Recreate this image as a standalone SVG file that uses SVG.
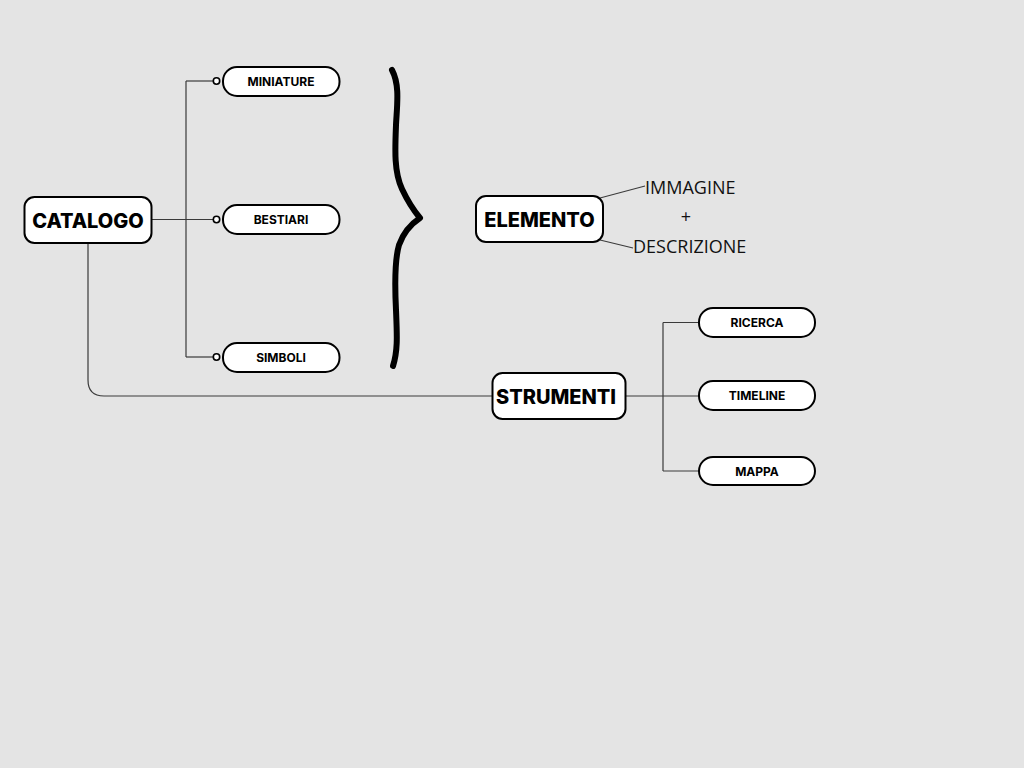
<svg xmlns="http://www.w3.org/2000/svg" width="1024" height="768" viewBox="0 0 1024 768">
  <style>
    .main rect { fill: #ffffff; stroke: #000000; stroke-width: 2; }
    .main text { font-family: Inter, "Liberation Sans", sans-serif; font-weight: 800; font-size: 20px; fill: #000000; text-anchor: middle; dominant-baseline: central; }
    .leaf rect { fill: #ffffff; stroke: #000000; stroke-width: 2; }
    .leaf text { font-family: Inter, "Liberation Sans", sans-serif; font-weight: 700; font-size: 12px; fill: #000000; text-anchor: middle; dominant-baseline: central; }
    .link { fill: none; stroke: #3a3a3a; stroke-width: 1.2; }
    .dot { fill: #ffffff; stroke: #000000; stroke-width: 1.6; }
    .note { font-family: "Open Sans", "Liberation Sans", sans-serif; font-size: 18px; fill: #111111; }
  </style>
  <rect width="1024" height="768" fill="#e4e4e4"/>

  <g id="connectors">
    <!-- CATALOGO branches -->
    <path class="link" d="M152 219.5 H213"/>
    <path class="link" d="M186 81 V357"/>
    <path class="link" d="M186 81 H213"/>
    <path class="link" d="M186 357 H213"/>
    <circle class="dot" cx="216.5" cy="81" r="3.2"/>
    <circle class="dot" cx="216.5" cy="219.5" r="3.2"/>
    <circle class="dot" cx="216.5" cy="357" r="3.2"/>
    <!-- CATALOGO to STRUMENTI -->
    <path class="link" d="M88 243 V380 Q88 396 104 396 H493"/>
    <!-- STRUMENTI branches -->
    <path class="link" d="M626 396 H699"/>
    <path class="link" d="M663 322.5 V471"/>
    <path class="link" d="M663 322.5 H699"/>
    <path class="link" d="M663 471 H699"/>
    <!-- ELEMENTO notes -->
    <path class="link" d="M600 198 L645 186"/>
    <path class="link" d="M600 240 L633 248"/>
  </g>

  <!-- curly brace -->
  <path id="brace" d="M392 70 C400 85 397 105 396 125 C395 150 394 172 402 189 Q410 206 420 218 Q405 228 399 245 C394 262 395 290 396 310 C397 335 398 350 393 366" fill="none" stroke="#000000" stroke-width="6" stroke-linecap="round" stroke-linejoin="round"/>

  <g id="catalogo" class="main">
    <rect x="24.5" y="197" width="127" height="46" rx="10"/>
    <text x="88" y="220.5">CATALOGO</text>
  </g>
  <g id="elemento" class="main">
    <rect x="476" y="196" width="127" height="46" rx="10"/>
    <text x="539.5" y="219.5">ELEMENTO</text>
  </g>
  <g id="strumenti" class="main">
    <rect x="492.5" y="373" width="133" height="46" rx="10"/>
    <text x="556" y="396.5">STRUMENTI</text>
  </g>

  <g id="miniature" class="leaf">
    <rect x="223" y="67" width="116.5" height="29" rx="14"/>
    <text x="281" y="81.5">MINIATURE</text>
  </g>
  <g id="bestiari" class="leaf">
    <rect x="223" y="205" width="116.5" height="29" rx="14"/>
    <text x="281" y="219.5">BESTIARI</text>
  </g>
  <g id="simboli" class="leaf">
    <rect x="223" y="343" width="116.5" height="29" rx="14"/>
    <text x="281" y="357.5">SIMBOLI</text>
  </g>

  <g id="ricerca" class="leaf">
    <rect x="699" y="308" width="116" height="29" rx="14"/>
    <text x="757" y="322.5">RICERCA</text>
  </g>
  <g id="timeline" class="leaf">
    <rect x="699" y="381" width="116" height="29" rx="14"/>
    <text x="757" y="395.5">TIMELINE</text>
  </g>
  <g id="mappa" class="leaf">
    <rect x="699" y="457" width="116" height="28" rx="14"/>
    <text x="757" y="471">MAPPA</text>
  </g>

  <g id="elemento-notes">
    <text class="note" x="645" y="194">IMMAGINE</text>
    <text class="note" x="686" y="223" text-anchor="middle" font-size="15">+</text>
    <text class="note" x="633" y="253">DESCRIZIONE</text>
  </g>
</svg>
